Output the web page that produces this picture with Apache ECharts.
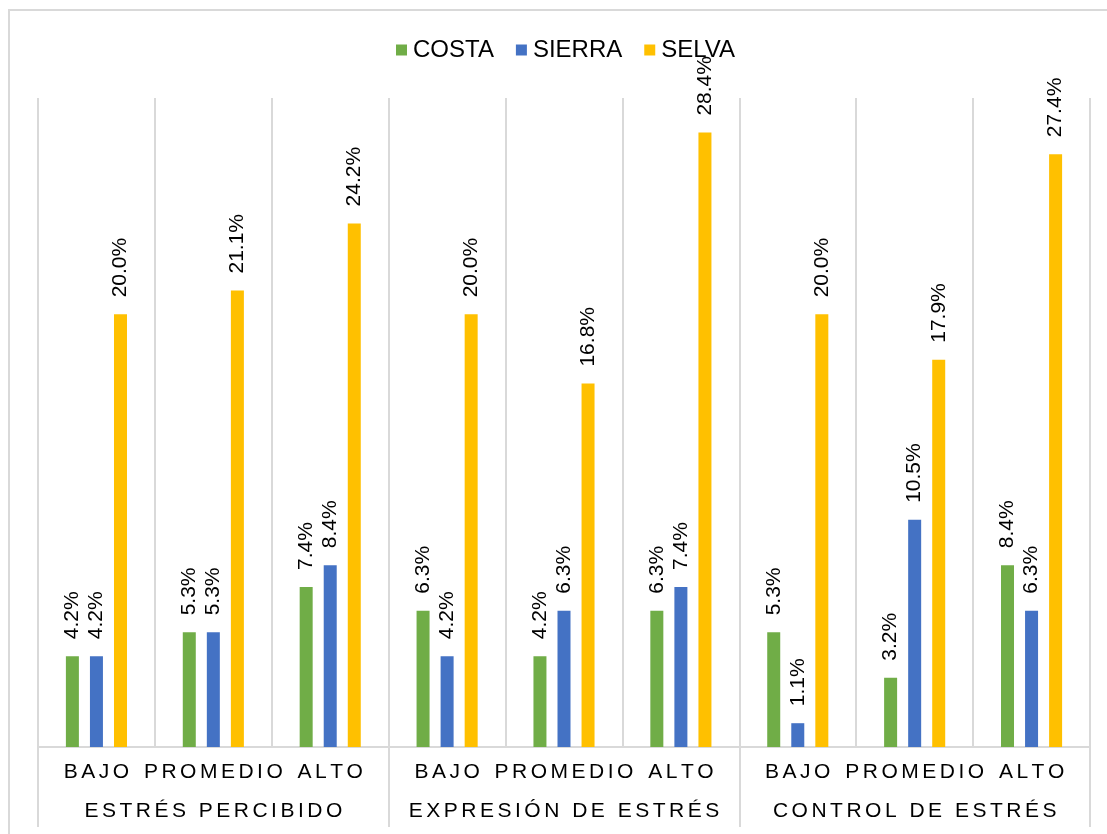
<!DOCTYPE html>
<html>
<head>
<meta charset="utf-8">
<script src="https://cdn.jsdelivr.net/npm/echarts@6/dist/echarts.min.js"></script>
<style>
  html, body { margin: 0; padding: 0; background: #fff; }
  #chart { width: 1107px; height: 834px; }
</style>
</head>
<body>
<div id="chart"></div>
<script>
// categorías y grupos
const categories = ["BAJO", "PROMEDIO", "ALTO", "BAJO", "PROMEDIO", "ALTO", "BAJO", "PROMEDIO", "ALTO"];
const groups = ["ESTRÉS PERCIBIDO", "EXPRESIÓN DE ESTRÉS", "CONTROL DE ESTRÉS"];

// valores en %
const costa = [4.2, 5.3, 7.4, 6.3, 4.2, 6.3, 5.3, 3.2, 8.4];
const sierra = [4.2, 5.3, 8.4, 4.2, 6.3, 7.4, 1.1, 10.5, 6.3];
const selva = [20.0, 21.1, 24.2, 20.0, 16.8, 28.4, 20.0, 17.9, 27.4];

const FONT = "Liberation Sans";
const GRID_COLOR = "#d9d9d9";

// espaciado entre letras (como en el gráfico de Excel)
const spaced = (s) => s.split("").join("\u2006");

const barLabel = {
  show: true,
  position: "top",
  rotate: 90,
  align: "left",
  verticalAlign: "middle",
  distance: 17,
  fontFamily: FONT,
  fontSize: 21,
  color: "#000",
  formatter: (p) => p.value.toFixed(1) + "%"
};

const makeSeries = (name, data, color) => ({
  name: name,
  type: "bar",
  data: data,
  barWidth: 13,
  barGap: "85%",
  itemStyle: { color: color },
  label: barLabel
});

const chart = echarts.init(document.getElementById("chart"));
chart.setOption({
  animation: false,
  graphic: [
    {
      type: "rect",
      shape: { x: 9, y: 10, width: 1200, height: 900 },
      style: { fill: "none", stroke: GRID_COLOR, lineWidth: 2 },
      silent: true
    }
  ],
  legend: {
    left: 391,
    top: 33,
    itemWidth: 11,
    itemHeight: 11,
    itemGap: 22,
    icon: "rect",
    textStyle: { fontFamily: FONT, fontSize: 24, color: "#000", padding: [0, 0, 0, 1] },
    data: ["COSTA", "SIERRA", "SELVA"]
  },
  grid: { left: 38, right: 17, top: 98, bottom: 87 },
  xAxis: [
    {
      type: "category",
      position: "bottom",
      data: categories,
      axisLine: { show: true, lineStyle: { color: GRID_COLOR, width: 2 } },
      axisTick: { show: false },
      splitLine: { show: true, lineStyle: { color: GRID_COLOR, width: 2 } },
      axisLabel: {
        margin: 15,
        interval: 0,
        fontFamily: FONT,
        fontSize: 21,
        color: "#000",
        formatter: spaced
      }
    },
    {
      type: "category",
      position: "bottom",
      data: groups,
      axisLine: { show: false },
      axisTick: { show: true, length: 80, lineStyle: { color: GRID_COLOR, width: 2 } },
      axisLabel: {
        margin: 54,
        interval: 0,
        fontFamily: FONT,
        fontSize: 21,
        color: "#000",
        formatter: spaced
      }
    }
  ],
  yAxis: {
    type: "value",
    min: 0,
    max: 30,
    show: false,
    splitLine: { show: false }
  },
  series: [
    makeSeries("COSTA", costa, "#70AD47"),
    makeSeries("SIERRA", sierra, "#4472C4"),
    makeSeries("SELVA", selva, "#FFC000")
  ]
});
</script>
</body>
</html>
